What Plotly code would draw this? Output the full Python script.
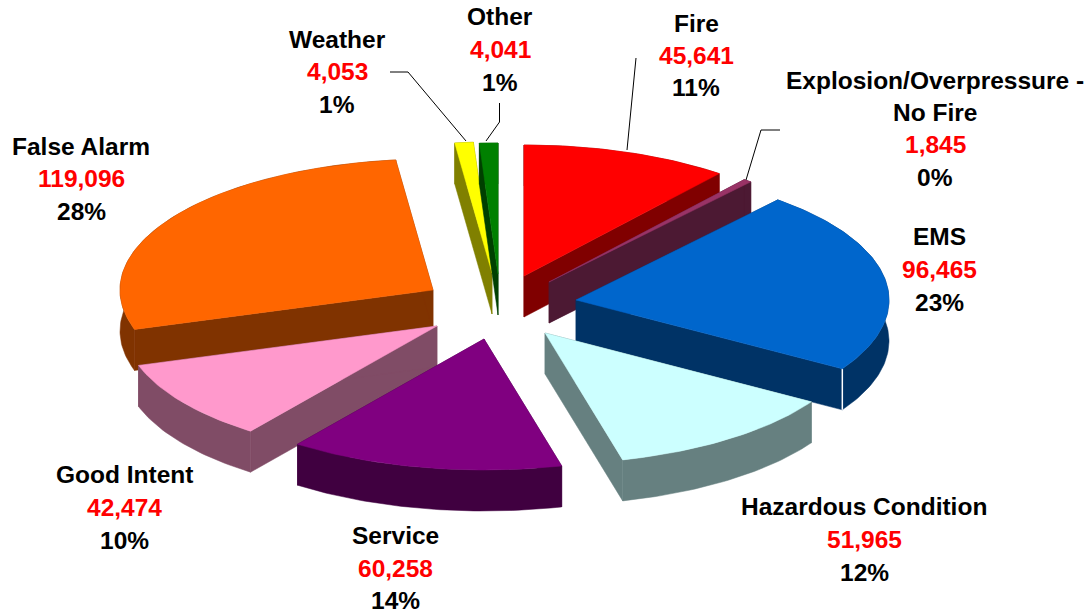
import math
import plotly.graph_objects as go

# Data
categories = ["Fire", "Explosion/Overpressure -<br>No Fire", "EMS", "Hazardous Condition",
              "Service", "Good Intent", "False Alarm", "Weather", "Other"]
values = [45641, 1845, 96465, 51965, 60258, 42474, 119096, 4053, 4041]

# Styles
top_colors = ["#FF0000", "#993366", "#0066CC", "#CCFFFF", "#800080", "#FF99CC", "#FF6600", "#FFFF00", "#008000"]
wall_colors = ["#800000", "#4C1933", "#003366", "#668080", "#400040", "#804C66", "#803300", "#808000", "#004000"]

# Layout of the exploded slices (apex of each top face, in page pixels)
apex_x = [524, 549, 576, 545, 484, 437, 433, 492, 498]
apex_y = [276, 282, 300, 333, 339, 326, 290, 273, 274]
RX, RY, DEPTH = 313, 131, 41
draw_order = [7, 8, 0, 1, 2, 3, 6, 5, 4]

# Label centres: page pixels for (name lines, value, percent)
label_x = [696, 935, 939, 864, 395, 124, 81, 337, 500]
label_y = [[23, 55, 87], [80, 112, 144, 177], [236, 269, 302], [506, 539, 572], [535, 568, 600],
           [474, 507, 540], [146, 178, 211], [39, 71, 104], [16, 49, 82]]
leaders = [[(636, 58), (627, 150)], [(780, 130), (761, 130), (746, 180)],
           [(390, 72), (408, 72), (466, 141)], [(499.5, 103), (499.5, 122), (486, 141)]]

PAGE_W, PAGE_H = 1090, 613

total = sum(values)
fig = go.Figure()


def poly(xs, ys, color):
    fig.add_trace(go.Scatter(x=xs, y=ys, mode="lines", fill="toself", fillcolor=color,
                             line=dict(color=color, width=0.5), hoverinfo="skip", showlegend=False))


def arc(i, a0, a1):
    n = max(2, int((a1 - a0) / 1.0) + 1)
    angs = [a0 + (a1 - a0) * k / (n - 1) for k in range(n)]
    return ([apex_x[i] + RX * math.sin(math.radians(a)) for a in angs],
            [apex_y[i] - RY * math.cos(math.radians(a)) for a in angs])


starts = []
acc = 0.0
for v in values:
    starts.append(acc)
    acc += v / total * 360

for i in draw_order:
    a0 = starts[i]
    a1 = a0 + values[i] / total * 360
    ax, ay = apex_x[i], apex_y[i]
    xs, ys = arc(i, a0, a1)
    # radial walls
    poly([ax, xs[0], xs[0], ax, ax], [ay, ys[0], ys[0] + DEPTH, ay + DEPTH, ay], wall_colors[i])
    poly([ax, xs[-1], xs[-1], ax, ax], [ay, ys[-1], ys[-1] + DEPTH, ay + DEPTH, ay], wall_colors[i])
    # outer rim wall
    poly(xs + xs[::-1] + [xs[0]], ys + [y + DEPTH for y in ys[::-1]] + [ys[0]], wall_colors[i])
    # pale edge where the end wall meets the rim on the EMS slice
    if i == 2:
        fig.add_trace(go.Scatter(x=[xs[-1], xs[-1]], y=[ys[-1], ys[-1] + DEPTH], mode="lines",
                                 line=dict(color="white", width=1.5), hoverinfo="skip", showlegend=False))
    # top face
    poly([ax] + xs + [ax], [ay] + ys + [ay], top_colors[i])

for pts in leaders:
    fig.add_trace(go.Scatter(x=[p[0] for p in pts], y=[p[1] for p in pts], mode="lines",
                             line=dict(color="black", width=1), hoverinfo="skip", showlegend=False))

FONT = "Liberation Sans"
SIZE = 24.5
for i, name in enumerate(categories):
    lines = name.split("<br>")
    texts = [(l, "black") for l in lines]
    texts.append((f"{values[i]:,}", "#FF0000"))
    texts.append((f"{round(values[i] / total * 100)}%", "black"))
    for (t, c), y in zip(texts, label_y[i]):
        fig.add_annotation(x=label_x[i], y=y, text=f"<b>{t}</b>", showarrow=False, xanchor="center",
                           yanchor="middle", font=dict(family=FONT, size=SIZE, color=c))

fig.update_layout(width=PAGE_W, height=PAGE_H, margin=dict(l=0, r=0, t=0, b=0), autosize=False,
                  paper_bgcolor="white", plot_bgcolor="white", showlegend=False,
                  xaxis=dict(range=[0, PAGE_W], visible=False, fixedrange=True),
                  yaxis=dict(range=[PAGE_H, 0], visible=False, fixedrange=True))
fig.write_html("out.html", config={"displayModeBar": False},
               post_script="document.body.style.margin='0';document.body.style.overflow='hidden';")
